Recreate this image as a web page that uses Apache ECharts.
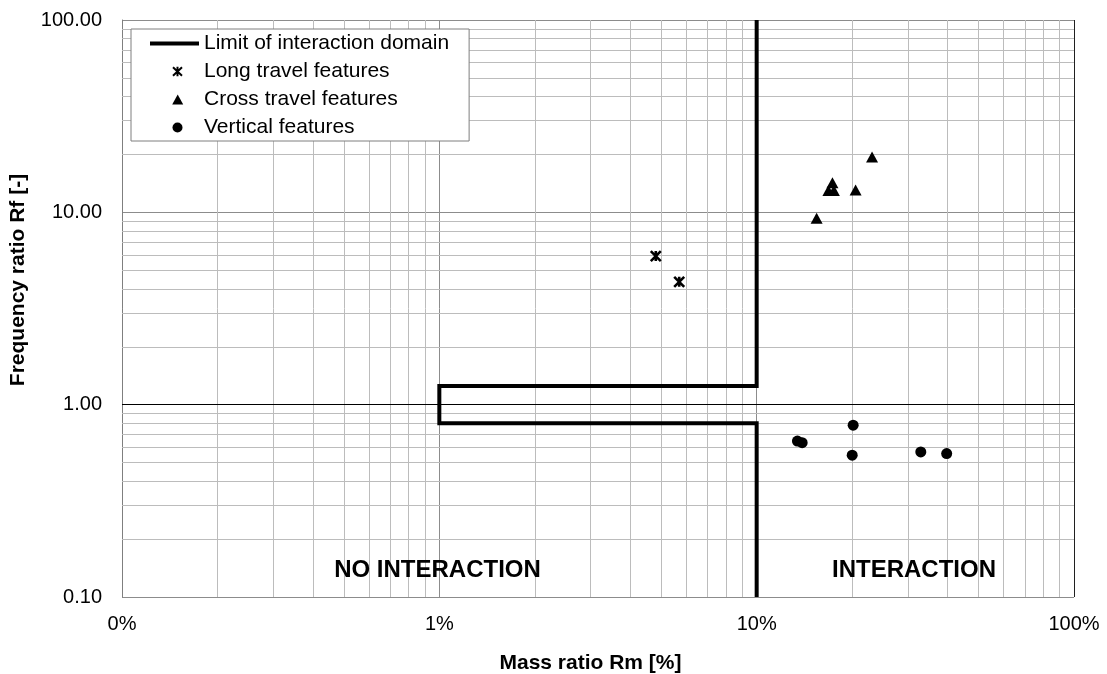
<!DOCTYPE html>
<html>
<head>
<meta charset="utf-8">
<script src="https://cdn.jsdelivr.net/npm/echarts@6/dist/echarts.min.js"></script>
<style>
html,body{margin:0;padding:0;background:#fff;}
#chart{width:1107px;height:674px;}
</style>
</head>
<body>
<div id="chart"></div>
<script>
// ---- data ----
const xTickLabels = ['0%', '1%', '10%', '100%'];
const yTickLabels = ['0.10', '1.00', '10.00', '100.00'];
const minorX = [0.2,0.3,0.4,0.5,0.6,0.7,0.8,0.9, 2,3,4,5,6,7,8,9, 20,30,40,50,60,70,80,90];
const minorY = [0.2,0.3,0.4,0.5,0.6,0.7,0.8,0.9, 2,3,4,5,6,7,8,9, 20,30,40,50,60,70,80,90];

const limitX = [10, 10, 1, 1, 10, 10];
const limitY = [100, 1.25, 1.25, 0.8, 0.8, 0.1];

const longX = [4.81, 5.70];
const longY = [5.92, 4.35];

const crossX = [15.45, 16.83, 17.33, 17.51, 20.5, 23.1];
const crossY = [9.33, 12.97, 14.27, 12.97, 13.05, 19.4];

const vertX = [13.44, 13.91, 20.14, 20.0, 32.9, 39.7];
const vertY = [0.647, 0.634, 0.782, 0.546, 0.568, 0.557];

const seriesNames = ['Limit of interaction domain', 'Long travel features', 'Cross travel features', 'Vertical features'];
const xTitle = 'Mass ratio Rm [%]';
const yTitle = 'Frequency ratio Rf [-]';
const zoneLabels = ['NO INTERACTION', 'INTERACTION'];

// ---- chart ----
const FONT = '"Liberation Sans", Arial, sans-serif';
const pairs = (xs, ys) => xs.map((x, i) => [x, ys[i]]);
const decIdx = v => Math.round(Math.log10(v)) + 1;

const chart = echarts.init(document.getElementById('chart'), null, {renderer: 'canvas'});

const gridMarks = [];
minorX.forEach(v => gridMarks.push({xAxis: v}));
minorY.forEach(v => gridMarks.push({yAxis: v}));
gridMarks.push({yAxis: 1, lineStyle: {color: '#000', width: 1, type: 'solid'}});
gridMarks.push({xAxis: 100, lineStyle: {color: '#202020', width: 1, type: 'solid'}});

// legend icons (49 x 10 box, marker centred a little right of middle)
const icons = {
  line: 'path://M0,3L49,3L49,7L0,7Z',
  x: 'path://M0,5L0,5M23,1L32,9.5M32,1L23,9.5M27.5,0.5L27.5,10M49,5L49,5',
  tri: 'path://M0,5L0,5M22.2,10L27.7,0L33.2,10ZM49,5L49,5',
  circ: 'path://M0,5L0,5M22.5,5A5,5 0 1,1 32.5,5A5,5 0 1,1 22.5,5ZM49,5L49,5'
};

const option = {
  animation: false,
  backgroundColor: '#fff',
  textStyle: {fontFamily: FONT, color: '#000'},
  grid: {left: 122, top: 20, right: 33, bottom: 77},
  legend: {
    orient: 'vertical',
    left: 131,
    top: 29,
    data: [
      {name: seriesNames[0], icon: icons.line},
      {name: seriesNames[1], icon: icons.x},
      {name: seriesNames[2], icon: icons.tri},
      {name: seriesNames[3], icon: icons.circ}
    ],
    itemWidth: 49,
    itemHeight: 10,
    itemGap: 7,
    padding: [4, 20, 3, 18],
    backgroundColor: '#fff',
    borderColor: '#7f7f7f',
    borderWidth: 1,
    borderRadius: 0,
    selectedMode: false,
    textStyle: {fontSize: 21, color: '#000', fontFamily: FONT},
    z: 10
  },
  xAxis: {
    type: 'log',
    logBase: 10,
    min: 0.1,
    max: 100,
    axisLine: {show: false},
    axisTick: {show: false},
    axisLabel: {
      fontSize: 20, color: '#000', margin: 17, fontFamily: FONT,
      formatter: v => xTickLabels[decIdx(v)]
    },
    splitLine: {show: true, lineStyle: {color: '#8c8c8c', width: 1}}
  },
  yAxis: {
    type: 'log',
    logBase: 10,
    min: 0.1,
    max: 100,
    axisLine: {show: true, lineStyle: {color: '#7f7f7f', width: 1}},
    axisTick: {show: false},
    axisLabel: {
      fontSize: 20, color: '#000', margin: 20, fontFamily: FONT,
      formatter: v => yTickLabels[decIdx(v)]
    },
    splitLine: {show: true, lineStyle: {color: '#8c8c8c', width: 1}}
  },
  graphic: [
    {type: 'text', x: 590.5, y: 663, z: 20,
      style: {text: xTitle, font: 'bold 21px ' + FONT, fill: '#000',
        textAlign: 'center', textVerticalAlign: 'middle', align: 'center', verticalAlign: 'middle'}},
    {type: 'text', x: 18, y: 280, rotation: Math.PI / 2, z: 20,
      style: {text: yTitle, font: 'bold 21px ' + FONT, fill: '#000',
        textAlign: 'center', textVerticalAlign: 'middle', align: 'center', verticalAlign: 'middle'}},
    {type: 'text', x: 437.5, y: 570, z: 20,
      style: {text: zoneLabels[0], font: 'bold 24px ' + FONT, fill: '#000',
        textAlign: 'center', textVerticalAlign: 'middle', align: 'center', verticalAlign: 'middle'}},
    {type: 'text', x: 914, y: 570, z: 20,
      style: {text: zoneLabels[1], font: 'bold 24px ' + FONT, fill: '#000',
        textAlign: 'center', textVerticalAlign: 'middle', align: 'center', verticalAlign: 'middle'}}
  ],
  series: [
    {
      type: 'line',
      name: '__grid',
      data: [],
      silent: true,
      z: 1,
      markLine: {
        silent: true,
        animation: false,
        z: 1,
        symbol: ['none', 'none'],
        label: {show: false},
        lineStyle: {color: '#bcbcbc', width: 1, type: 'solid'},
        emphasis: {disabled: true},
        data: gridMarks
      }
    },
    {
      type: 'line',
      name: seriesNames[0],
      data: pairs(limitX, limitY),
      symbol: 'none',
      showSymbol: false,
      lineStyle: {color: '#000', width: 4, join: 'miter'},
      itemStyle: {color: '#000'},
      z: 6
    },
    {
      type: 'scatter',
      name: seriesNames[1],
      data: pairs(longX, longY),
      symbol: 'path://M0,0L10,10M10,0L0,10M5,0L5,10',
      symbolSize: 10,
      itemStyle: {color: '#000', borderColor: '#000', borderWidth: 2.6, opacity: 1},
      z: 7
    },
    {
      type: 'scatter',
      name: seriesNames[2],
      data: pairs(crossX, crossY),
      symbol: 'triangle',
      symbolSize: [12, 11],
      itemStyle: {color: '#000', opacity: 1},
      z: 7
    },
    {
      type: 'scatter',
      name: seriesNames[3],
      data: pairs(vertX, vertY),
      symbol: 'circle',
      symbolSize: 11,
      itemStyle: {color: '#000', opacity: 1},
      z: 7
    }
  ]
};
chart.setOption(option);
</script>
</body>
</html>
